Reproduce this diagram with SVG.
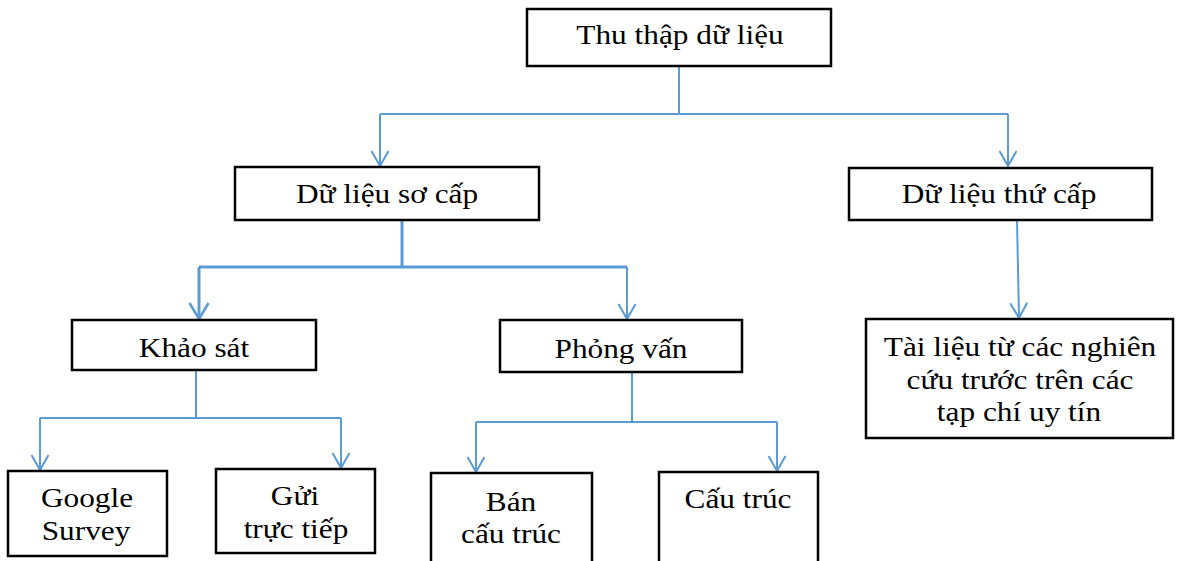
<svg xmlns="http://www.w3.org/2000/svg" width="1177" height="561" viewBox="0 0 1177 561">
<defs>
<marker id="arr" markerWidth="20" markerHeight="20" refX="16" refY="10" orient="auto" markerUnits="userSpaceOnUse" viewBox="0 0 20 20">
<path d="M1,1.5 L16,10 L1,18.5" fill="none" stroke="#5b9bd5" stroke-width="2"/>
</marker>
<marker id="arr2" markerWidth="20" markerHeight="22" refX="17" refY="11" orient="auto" markerUnits="userSpaceOnUse" viewBox="0 0 20 22">
<path d="M1,1.5 L17,11 L1,20.5" fill="none" stroke="#5b9bd5" stroke-width="2.5"/>
</marker>
</defs>
<style>
.box{fill:#fff;stroke:#000;stroke-width:2.5}
.t{font-family:"Liberation Serif","Times New Roman",serif;font-size:27px;fill:#000;text-anchor:middle}
.c{fill:none;stroke:#5b9bd5;stroke-width:2}
.c2{fill:none;stroke:#5b9bd5;stroke-width:3}
</style>
<rect width="1177" height="561" fill="#fff"/>
<g id="connectors">
<path class="c" d="M679,66 V114 M380,114 H1008"/>
<path class="c" d="M380,114 V166" marker-end="url(#arr)"/>
<path class="c" d="M1008,114 V166" marker-end="url(#arr)"/>
<path class="c2" d="M402,220 V267 M199,267 H627"/>
<path class="c2" d="M199,267 V319" marker-end="url(#arr2)"/>
<path class="c" d="M627,267 V319" marker-end="url(#arr)"/>
<path class="c" d="M196,370 V418 M40,418 H341"/>
<path class="c" d="M40,418 V470" marker-end="url(#arr)"/>
<path class="c" d="M341,418 V468" marker-end="url(#arr)"/>
<path class="c" d="M632,372 V422 M476,422 H777"/>
<path class="c" d="M476,422 V472" marker-end="url(#arr)"/>
<path class="c" d="M777,422 V471" marker-end="url(#arr)"/>
<path class="c" d="M1017,220 L1019,318" marker-end="url(#arr)"/>
</g>
<g id="n-root"><rect class="box" x="527" y="9" width="304" height="57"/><text class="t" transform="translate(680,44) scale(1.16,1)">Thu thập dữ liệu</text></g>
<g id="n-primary"><rect class="box" x="235" y="167" width="304" height="53"/><text class="t" transform="translate(387,203) scale(1.16,1)">Dữ liệu sơ cấp</text></g>
<g id="n-secondary"><rect class="box" x="849" y="168" width="303" height="52"/><text class="t" transform="translate(999,203) scale(1.16,1)">Dữ liệu thứ cấp</text></g>
<g id="n-survey"><rect class="box" x="72" y="320" width="244" height="50"/><text class="t" transform="translate(194,357) scale(1.16,1)">Khảo sát</text></g>
<g id="n-interview"><rect class="box" x="500" y="320" width="242" height="52"/><text class="t" transform="translate(621,358) scale(1.16,1)">Phỏng vấn</text></g>
<g id="n-docs"><rect class="box" x="866" y="319" width="307" height="119"/><text class="t" transform="translate(1020,356) scale(1.16,1)">Tài liệu từ các nghiên</text><text class="t" transform="translate(1020,389) scale(1.16,1)">cứu trước trên các</text><text class="t" transform="translate(1019,421) scale(1.16,1)">tạp chí uy tín</text></g>
<g id="n-google"><rect class="box" x="8" y="471" width="159" height="85"/><text class="t" transform="translate(87,507) scale(1.16,1)">Google</text><text class="t" transform="translate(86,540) scale(1.16,1)">Survey</text></g>
<g id="n-direct"><rect class="box" x="216" y="469" width="159" height="84"/><text class="t" transform="translate(295,505) scale(1.16,1)">Gửi</text><text class="t" transform="translate(296,538) scale(1.16,1)">trực tiếp</text></g>
<g id="n-semi"><rect class="box" x="431" y="473" width="161" height="92"/><text class="t" transform="translate(511,511) scale(1.16,1)">Bán</text><text class="t" transform="translate(511,543) scale(1.16,1)">cấu trúc</text></g>
<g id="n-struct"><rect class="box" x="659" y="472" width="159" height="93"/><text class="t" transform="translate(738,508) scale(1.16,1)">Cấu trúc</text></g>
</svg>
